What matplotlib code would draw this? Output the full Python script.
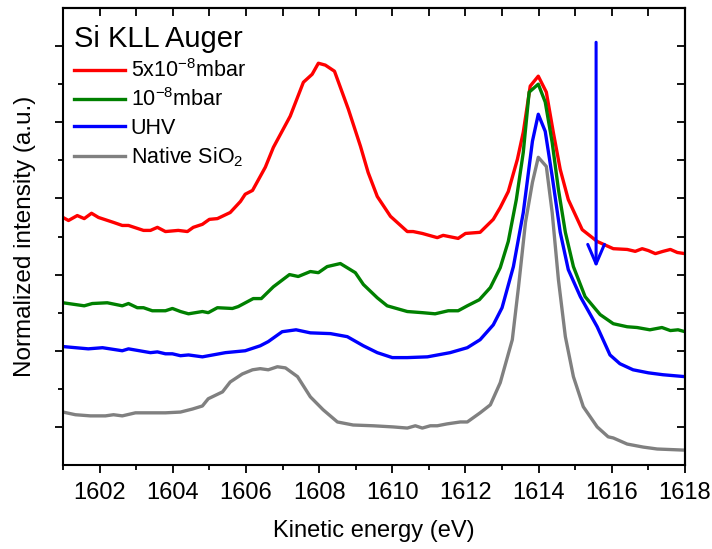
import matplotlib
matplotlib.use('Agg')
import matplotlib.pyplot as plt
from matplotlib.ticker import MultipleLocator, FixedLocator, NullFormatter

plt.rcParams['font.family'] = ['Liberation Sans', 'DejaVu Sans']
plt.rcParams['mathtext.fontset'] = 'custom'
plt.rcParams['mathtext.rm'] = 'Liberation Sans'
plt.rcParams['mathtext.it'] = 'Liberation Sans:italic'

# 5x10^-8 mbar
e_red = [1601.0, 1601.15, 1601.39, 1601.58, 1601.78, 1601.97, 1602.38, 1602.62, 1602.79,
         1603.20, 1603.39, 1603.58, 1603.80, 1604.15, 1604.40, 1604.56, 1604.81, 1605.00,
         1605.22, 1605.57, 1605.85, 1605.98, 1606.18, 1606.53, 1606.75, 1607.21, 1607.57,
         1607.81, 1607.98, 1608.17, 1608.42, 1608.80, 1609.13, 1609.34, 1609.59, 1609.95,
         1610.41, 1610.57, 1610.82, 1611.23, 1611.39, 1611.80, 1612.00, 1612.40, 1612.76,
         1612.95, 1613.17, 1613.42, 1613.58, 1613.77, 1613.99, 1614.21, 1614.40, 1614.59,
         1614.81, 1615.19, 1615.60, 1615.90, 1616.04, 1616.42, 1616.64, 1616.83, 1617.00,
         1617.19, 1617.40, 1617.60, 1617.79, 1618.0]
i_red = [6.50, 6.42, 6.55, 6.47, 6.61, 6.50, 6.37, 6.29, 6.29,
         6.16, 6.16, 6.24, 6.13, 6.16, 6.13, 6.24, 6.32, 6.45,
         6.47, 6.63, 6.92, 7.11, 7.21, 7.82, 8.34, 9.16, 10.05,
         10.26, 10.55, 10.50, 10.34, 9.34, 8.37, 7.68, 7.05, 6.53,
         6.13, 6.13, 6.08, 5.97, 6.03, 5.95, 6.08, 6.11, 6.45,
         6.76, 7.18, 8.03, 8.74, 9.95, 10.21, 9.79, 8.74, 7.76,
         6.97, 6.18, 5.87, 5.74, 5.68, 5.66, 5.61, 5.68, 5.63,
         5.55, 5.61, 5.66, 5.58, 5.55]

# 10^-8 mbar
e_green = [1601.0, 1601.58, 1601.80, 1602.21, 1602.62, 1602.79, 1603.03, 1603.20, 1603.44,
           1603.80, 1603.99, 1604.21, 1604.43, 1604.81, 1604.97, 1605.22, 1605.63, 1605.79,
           1606.20, 1606.42, 1606.75, 1607.19, 1607.43, 1607.76, 1607.98, 1608.22, 1608.58,
           1608.99, 1609.21, 1609.59, 1609.86, 1610.41, 1610.82, 1611.17, 1611.53, 1611.80,
           1612.05, 1612.38, 1612.68, 1612.95, 1613.17, 1613.39, 1613.58, 1613.74, 1613.99,
           1614.18, 1614.37, 1614.54, 1614.73, 1614.95, 1615.27, 1615.68, 1616.04, 1616.42,
           1616.69, 1617.04, 1617.37, 1617.60, 1617.81, 1618.0]
i_green = [4.26, 4.18, 4.24, 4.26, 4.18, 4.24, 4.13, 4.13, 4.05,
           4.05, 4.11, 4.03, 3.97, 4.03, 4.00, 4.13, 4.11, 4.16,
           4.37, 4.37, 4.68, 5.00, 4.95, 5.08, 5.05, 5.21, 5.29,
           5.05, 4.74, 4.39, 4.18, 4.03, 4.00, 3.97, 4.05, 4.05,
           4.18, 4.34, 4.66, 5.18, 5.87, 6.97, 8.21, 9.79, 10.00,
           9.53, 8.47, 7.24, 6.11, 5.21, 4.42, 3.95, 3.71, 3.63,
           3.61, 3.55, 3.61, 3.53, 3.55, 3.50]

# UHV
e_blue = [1601.0, 1601.69, 1602.08, 1602.62, 1602.79, 1603.39, 1603.58, 1603.80, 1603.99,
          1604.21, 1604.43, 1604.81, 1605.44, 1605.98, 1606.39, 1606.61, 1606.99, 1607.37,
          1607.76, 1608.31, 1608.77, 1609.21, 1609.59, 1610.00, 1610.41, 1610.96, 1611.58,
          1612.05, 1612.40, 1612.76, 1613.00, 1613.31, 1613.58, 1613.83, 1613.99, 1614.18,
          1614.37, 1614.59, 1614.81, 1615.14, 1615.60, 1615.95, 1616.22, 1616.58, 1617.00,
          1617.40, 1618.0]
i_blue = [3.11, 3.05, 3.08, 3.00, 3.05, 2.95, 2.97, 2.92, 2.92,
          2.87, 2.89, 2.84, 2.95, 3.00, 3.13, 3.24, 3.50, 3.55,
          3.47, 3.45, 3.37, 3.13, 2.95, 2.82, 2.82, 2.84, 2.95,
          3.08, 3.29, 3.68, 4.13, 5.21, 6.63, 8.50, 9.21, 8.76,
          7.58, 6.11, 5.13, 4.42, 3.63, 2.89, 2.66, 2.50, 2.42,
          2.37, 2.32]

# Native SiO2
e_gray = [1601.0, 1601.34, 1601.75, 1602.16, 1602.38, 1602.62, 1602.98, 1603.44, 1603.80,
          1604.21, 1604.54, 1604.81, 1604.97, 1605.36, 1605.57, 1605.90, 1606.18, 1606.39,
          1606.61, 1606.86, 1607.08, 1607.41, 1607.76, 1608.11, 1608.50, 1608.93, 1609.48,
          1610.02, 1610.41, 1610.63, 1610.82, 1611.04, 1611.23, 1611.50, 1611.86, 1612.05,
          1612.40, 1612.68, 1612.95, 1613.28, 1613.45, 1613.64, 1613.83, 1613.99, 1614.21,
          1614.37, 1614.54, 1614.73, 1614.95, 1615.22, 1615.60, 1615.90, 1616.04, 1616.42,
          1616.86, 1617.24, 1618.0]
i_gray = [1.39, 1.32, 1.29, 1.29, 1.32, 1.29, 1.37, 1.37, 1.37,
          1.39, 1.47, 1.55, 1.74, 1.92, 2.18, 2.39, 2.50, 2.53,
          2.50, 2.58, 2.55, 2.32, 1.79, 1.45, 1.13, 1.05, 1.03,
          1.00, 0.97, 1.03, 0.97, 1.03, 1.03, 1.08, 1.13, 1.13,
          1.37, 1.58, 2.16, 3.29, 4.68, 6.37, 7.42, 8.08, 7.84,
          6.63, 4.87, 3.37, 2.32, 1.53, 1.00, 0.74, 0.71, 0.55,
          0.47, 0.42, 0.39]

labels = [r'5x10$^{\mathregular{-8}}$mbar', r'10$^{\mathregular{-8}}$mbar', 'UHV',
          r'Native SiO$_{\mathregular{2}}$']
colors = ['#ff0000', '#008000', '#0000ff', '#808080']

# arrow (energy, from -> to)
arrow_e = 1615.57
arrow_y = (11.1, 5.18)

fig = plt.figure(figsize=(7.12, 5.49), dpi=100)
ax = fig.add_axes([63 / 712, 84 / 549, 622 / 712, 457 / 549])

for e, i, lab, c in zip([e_red, e_green, e_blue, e_gray], [i_red, i_green, i_blue, i_gray], labels, colors):
    ax.plot(e, i, color=c, lw=2.4, label=lab, solid_joinstyle='round')

ax.annotate('', xy=(arrow_e, arrow_y[1]), xytext=(arrow_e, arrow_y[0]),
            arrowprops=dict(arrowstyle='->, head_length=0.7, head_width=0.3', color='#0000ff',
                            lw=2.2, mutation_scale=20, shrinkA=0, shrinkB=0))

ax.set_xlim(1601, 1618)
ax.set_ylim(0, 12)
ax.xaxis.set_major_locator(MultipleLocator(2))
ax.xaxis.set_minor_locator(MultipleLocator(1))
ax.yaxis.set_major_locator(FixedLocator([1, 3, 5, 7, 9, 11]))
ax.yaxis.set_minor_locator(FixedLocator([2, 4, 6, 8, 10]))
ax.yaxis.set_major_formatter(NullFormatter())
ax.tick_params(which='major', direction='out', width=1.3, length=6, labelsize=17)
ax.tick_params(which='minor', direction='out', width=1.3, length=3.5)
ax.tick_params(axis='x', pad=6)

top = ax.secondary_xaxis('top')
top.set_xticks(range(1601, 1619))
top.tick_params(direction='in', length=6, width=1.3, labeltop=False)
right = ax.secondary_yaxis('right')
right.set_yticks(range(0, 13))
right.tick_params(direction='in', length=6, width=1.3, labelright=False)
for a in (ax, top, right):
    for s in a.spines.values():
        s.set_linewidth(1.5)

ax.set_xlabel('Kinetic energy (eV)', fontsize=17, labelpad=12)
ax.set_ylabel('Normalized intensity (a.u.)', fontsize=17.5, labelpad=10)

leg = ax.legend(loc='upper left', bbox_to_anchor=(0, 1 - 6 / 457), frameon=False, fontsize=15.5,
                title='Si KLL Auger', title_fontsize=21, alignment='left', handlelength=2.4,
                handletextpad=0.25, labelspacing=0.3, borderaxespad=0.3, borderpad=0.2)

fig.savefig('out.png', dpi=100)
